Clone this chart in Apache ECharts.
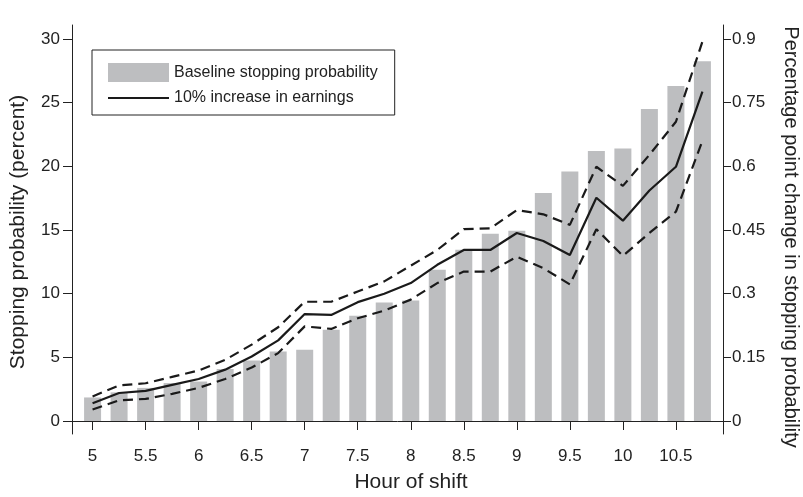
<!DOCTYPE html>
<html lang="en" style="height: 100%">
<head>
    <meta charset="utf-8"/>
    <title>Stopping probability by hour of shift</title>
    <script type="text/javascript" src="https://cdn.jsdelivr.net/npm/echarts@6/dist/echarts.min.js"></script>
</head>
<body style="height: 100%; margin: 0; background: #fff">
<div id="container" style="width: 803px; height: 497px"></div>
<script type="text/javascript">
    // hour of shift (one bar every quarter hour)
    var hours = [5, 5.25, 5.5, 5.75, 6, 6.25, 6.5, 6.75, 7, 7.25, 7.5, 7.75,
        8, 8.25, 8.5, 8.75, 9, 9.25, 9.5, 9.75, 10, 10.25, 10.5, 10.75];
    // baseline stopping probability, percent (left axis)
    var baseline = [1.85, 2.25, 2.6, 2.98, 3.1, 4.08, 4.76, 5.46, 5.6, 7.17, 8.27, 9.31,
        9.47, 11.88, 13.45, 14.7, 14.94, 17.9, 19.6, 21.2, 21.4, 24.5, 26.3, 28.26];
    // effect of a 10% increase in earnings, percentage points (right axis)
    var effect = [0.042, 0.066, 0.071, 0.085, 0.099, 0.121, 0.152, 0.19, 0.252, 0.25, 0.28, 0.30,
        0.325, 0.368, 0.403, 0.403, 0.443, 0.424, 0.391, 0.526, 0.472, 0.543, 0.599, 0.776];
    var upper = [0.058, 0.084, 0.089, 0.104, 0.119, 0.144, 0.18, 0.221, 0.281, 0.281, 0.305, 0.329,
        0.366, 0.403, 0.452, 0.454, 0.497, 0.487, 0.462, 0.599, 0.554, 0.627, 0.705, 0.894];
    var lower = [0.027, 0.049, 0.052, 0.064, 0.078, 0.099, 0.126, 0.16, 0.223, 0.217, 0.242, 0.26,
        0.286, 0.325, 0.352, 0.352, 0.387, 0.36, 0.322, 0.452, 0.389, 0.443, 0.493, 0.66];
    // tick labels
    var xTicks = [5, 5.5, 6, 6.5, 7, 7.5, 8, 8.5, 9, 9.5, 10, 10.5];
    var leftTicks = [0, 5, 10, 15, 20, 25, 30];
    var rightTicks = [0, 0.15, 0.3, 0.45, 0.6, 0.75, 0.9];

    function pairs(vals) {
        return hours.map(function (h, i) { return [h, vals[i]]; });
    }

    var ink = '#222';
    var font = 'Liberation Sans, Arial, sans-serif';
    var myChart = echarts.init(document.getElementById('container'));

    var option = {
        animation: false,
        textStyle: {fontFamily: font, color: ink},
        grid: {left: 72, right: 80, top: 25, bottom: 63},
        legend: {
            orient: 'vertical',
            left: 92,
            top: 50,
            padding: [13, 17, 9, 15],
            borderColor: ink,
            borderWidth: 1,
            itemWidth: 61,
            itemHeight: 19,
            itemGap: 8,
            textStyle: {fontSize: 16, color: ink, fontFamily: font},
            data: [
                {name: 'Baseline stopping probability', icon: 'rect'},
                {name: '10% increase in earnings', itemStyle: {opacity: 0}}
            ]
        },
        xAxis: {
            type: 'value',
            min: 4.806,
            max: 10.944,
            splitLine: {show: false},
            axisLine: {lineStyle: {color: ink, width: 1}},
            axisTick: {show: true, length: 9, customValues: xTicks, lineStyle: {color: ink}},
            axisLabel: {customValues: xTicks, fontSize: 17, color: ink, margin: 14}
        },
        yAxis: [{
            type: 'value',
            min: -1.02,
            max: 31.1,
            splitLine: {show: false},
            axisLine: {show: true, lineStyle: {color: ink, width: 1}},
            axisTick: {show: true, length: 9, customValues: leftTicks, lineStyle: {color: ink}},
            axisLabel: {customValues: leftTicks, fontSize: 17, color: ink, margin: 12}
        }, {
            type: 'value',
            position: 'right',
            min: -0.0306,
            max: 0.933,
            splitLine: {show: false},
            axisLine: {show: true, lineStyle: {color: ink, width: 1}},
            axisTick: {show: true, length: 8, customValues: rightTicks, lineStyle: {color: ink}},
            axisLabel: {customValues: rightTicks, fontSize: 17, color: ink, margin: 9}
        }],
        graphic: [{
            type: 'text', x: 411, y: 482,
            style: {text: 'Hour of shift', font: '21px ' + font, fill: ink, align: 'center', verticalAlign: 'middle'}
        }, {
            type: 'text', x: 18, y: 232, rotation: Math.PI / 2,
            style: {text: 'Stopping probability (percent)', font: '21px ' + font, fill: ink, align: 'center', verticalAlign: 'middle'}
        }, {
            type: 'text', x: 791, y: 237, rotation: -Math.PI / 2,
            style: {text: 'Percentage point change in stopping probability', font: '20px ' + font, fill: ink, align: 'center', verticalAlign: 'middle'}
        }],
        series: [{
            name: 'Baseline stopping probability',
            type: 'bar',
            barWidth: 17,
            itemStyle: {color: '#bdbec0'},
            data: pairs(baseline)
        }, {
            name: '10% increase in earnings',
            type: 'line',
            yAxisIndex: 1,
            symbol: 'none',
            lineStyle: {color: '#1a1a1a', width: 2.2},
            itemStyle: {color: '#1a1a1a'},
            data: pairs(effect)
        }, {
            name: 'upper',
            type: 'line',
            yAxisIndex: 1,
            symbol: 'none',
            lineStyle: {color: '#1a1a1a', width: 2.2, type: [10, 6]},
            data: pairs(upper)
        }, {
            name: 'lower',
            type: 'line',
            yAxisIndex: 1,
            symbol: 'none',
            lineStyle: {color: '#1a1a1a', width: 2.2, type: [10, 6]},
            data: pairs(lower)
        }]
    };

    myChart.setOption(option);
</script>
</body>
</html>
